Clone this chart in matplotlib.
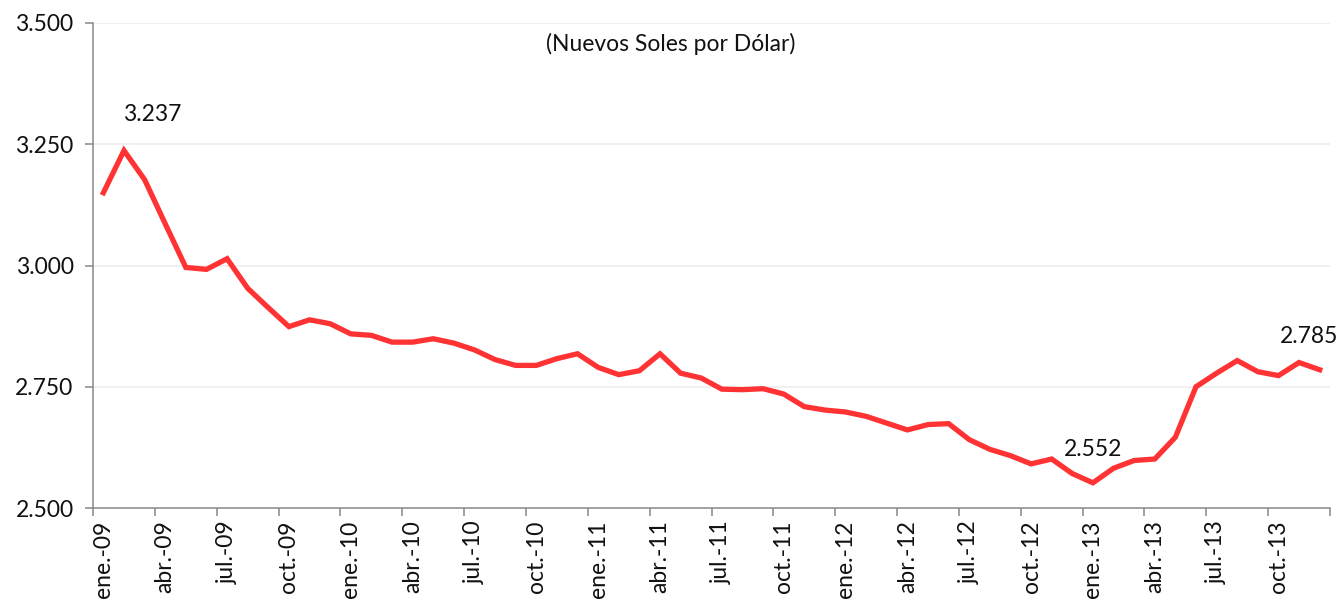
import matplotlib
matplotlib.use("Agg")
import matplotlib.pyplot as plt
import numpy as np

# tipo de cambio mensual, ene-09 a dic-13
meses = ["ene.", "feb.", "mar.", "abr.", "may.", "jun.",
         "jul.", "ago.", "set.", "oct.", "nov.", "dic."]
anios = ["09", "10", "11", "12", "13"]
fechas = [m + "-" + a for a in anios for m in meses]

tc = [3.150, 3.237, 3.177, 3.086, 2.996, 2.992, 3.014, 2.953, 2.913, 2.874,
      2.888, 2.880, 2.859, 2.856, 2.842, 2.842, 2.849, 2.840, 2.826, 2.806,
      2.794, 2.794, 2.808, 2.818, 2.790, 2.775, 2.783, 2.818, 2.778, 2.768,
      2.745, 2.744, 2.746, 2.735, 2.709, 2.702, 2.698, 2.689, 2.675, 2.661,
      2.672, 2.674, 2.641, 2.621, 2.608, 2.591, 2.601, 2.571, 2.552, 2.582,
      2.598, 2.601, 2.646, 2.750, 2.778, 2.804, 2.781, 2.773, 2.800, 2.785]

# etiquetas de datos: (indice, desplazamiento en pixeles)
etiquetas = [(1, (28, 36)), (48, (0, 33)), (59, (-11, 33))]

plt.rcParams["font.family"] = ["Lato", "DejaVu Sans"]
FS = 16.5

fig = plt.figure(figsize=(13.41, 6), dpi=100)
ax = fig.add_axes([0.0694, 0.1533, 0.9224, 0.8084])

x = np.arange(len(tc))
ax.plot(x, tc, color="#ff3333", lw=3.8, solid_joinstyle="miter", zorder=3)

for i, off in etiquetas:
    ax.annotate(f"{tc[i]:.3f}", (x[i], tc[i]), xytext=off,
                textcoords="offset pixels", ha="center", va="center",
                fontsize=FS, color="#111111")

ax.set_xlim(-0.5, len(tc) - 0.5)
ax.set_ylim(2.5, 3.5)

yt = [2.5, 2.75, 3.0, 3.25, 3.5]
ax.set_yticks(yt)
ax.set_yticklabels([f"{v:.3f}" for v in yt], fontsize=FS, color="#111111")
for v in yt[1:]:
    ax.axhline(v, color="#eeeeee", lw=1.2, zorder=1)

ax.set_xticks(np.arange(-0.5, len(tc), 3))
ax.set_xticklabels([])
ax.set_xticks(x[::3], minor=True)
ax.set_xticklabels(fechas[::3], minor=True, rotation=90, fontsize=FS,
                   color="#111111")
ax.tick_params(axis="x", which="minor", length=0, pad=9)
ax.tick_params(axis="x", which="major", length=6, width=1.1, color="#888888")
ax.tick_params(axis="y", length=6, width=1.1, color="#888888", pad=8)

for s in ["top", "right"]:
    ax.spines[s].set_visible(False)
for s in ["left", "bottom"]:
    ax.spines[s].set_color("#888888")
    ax.spines[s].set_linewidth(1.1)

ax.text(0.467, 0.957, "(Nuevos Soles por Dólar)", transform=ax.transAxes,
        ha="center", va="center", fontsize=FS, color="#111111")

fig.savefig("out.png", dpi=100)
